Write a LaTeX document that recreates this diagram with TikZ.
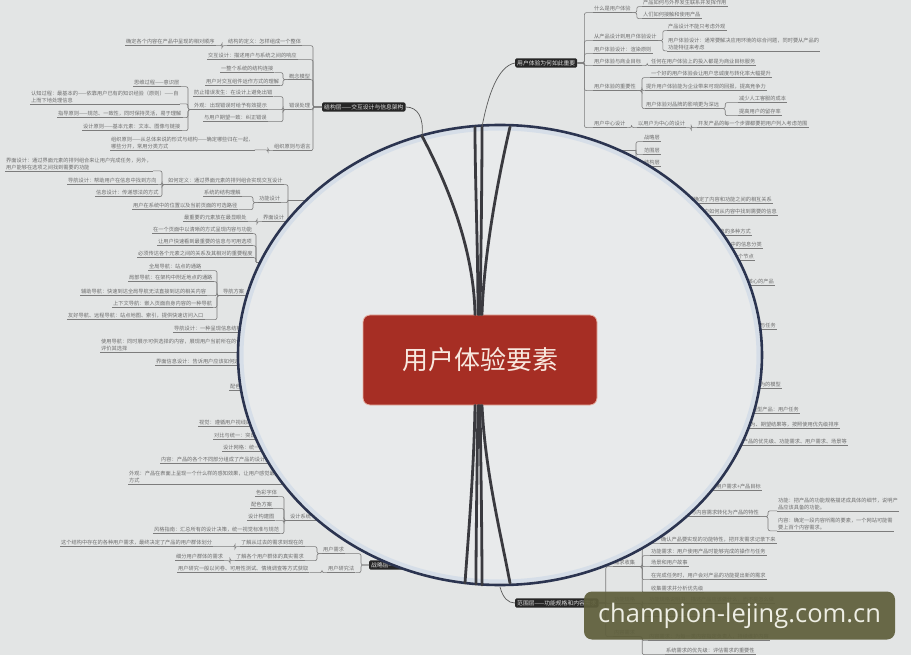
\documentclass[tikz,border=0pt]{standalone}
\usepackage{fontspec}
\setmainfont{Noto Sans CJK SC}
\newfontfamily\wmfont{Open Sans}
\definecolor{bggray}{HTML}{E3E5E5}
\definecolor{lensfill}{HTML}{E8EAEB}
\definecolor{lensring}{HTML}{CAD7E6}
\definecolor{lensedge}{HTML}{2B3450}
\definecolor{leafgray}{HTML}{6E6E6E}
\definecolor{ulgray}{HTML}{7C7C7C}
\definecolor{stemgray}{HTML}{3A3A3F}
\definecolor{branchfill}{HTML}{262626}
\definecolor{corered}{HTML}{A62E24}
\definecolor{corerim}{HTML}{E7B3A6}
\definecolor{coretext}{HTML}{F8E8DF}
\definecolor{wmolive}{HTML}{5F5F3C}
\definecolor{wmtext}{HTML}{EEEEE4}
\tikzset{
	link/.style={draw=ulgray,line width=0.6pt,rounded corners=2pt},
	leaf/.style={font=\fontsize{5.2}{6.4}\selectfont,text=leafgray,inner sep=1pt,anchor=west,align=left,
		append after command={\pgfextra{\let\ulnode\tikzlastnode}(\ulnode.south west) edge[link] (\ulnode.south east)}},
	leafr/.style={leaf,anchor=east,align=right},
	branch/.style={fill=branchfill,text=white!88!black,font=\fontsize{5.8}{7}\selectfont,rounded corners=1.5pt,inner sep=2pt,anchor=west},
	core/.style={fill=corered,draw=corerim,line width=0.8pt,rounded corners=7pt,minimum width=234pt,minimum height=90pt,text=coretext,font=\fontsize{26}{30}\selectfont},
	stem/.style={draw=stemgray,line width=2.8pt,line cap=round},
	twig/.style={draw=black!65,line width=0.7pt},
	wm/.style={fill=wmolive,fill opacity=.93,text opacity=1,text=wmtext,rounded corners=8pt,minimum width=311pt,minimum height=48pt,inner sep=0pt,font=\wmfont\fontsize{25.5}{28}\selectfont},
}
\newcommand\leftlink[3][5pt]{\draw[link] (#2.south east) -| ([xshift=-#1]#3.south west) -- (#3.south west);}
\newcommand\rightlink[3][5pt]{\draw[link] (#2.south east) -- ([xshift=#1]#2.south east) |- (#3.south west);}

\begin{document}
\begin{tikzpicture}[x=1pt,y=-1pt]
	\fill[bggray] (0,0) rectangle (911,655);
	\useasboundingbox (0,0) rectangle (911,655);
	
	% structure layer
	\node[branch] (jg) at (322,107) {结构层——交互设计与信息架构};
	\node[leaf] (jg1) at (227,42) {结构的定义：怎样组成一个整体};
	\node[leaf] (jg1a) at (125,42) {确定各个内容在产品中呈现的相对顺序};
	\node[leaf] (jg2) at (207,56) {交互设计：描述用户与系统之间的响应};
	\node[leaf] (jg3) at (288,76) {概念模型};
	\node[leaf] (jg3a) at (220,69) {一整个系统的结构连接};
	\node[leaf] (jg3b) at (205,82) {用户对交互组件运作方式的理解};
	\node[leaf] (jg4) at (288,106) {错误处理};
	\node[leaf] (jg4a) at (193,93) {防止错误发生：在设计上避免出错};
	\node[leaf] (jg4b) at (193,106) {外观：出现错误时给予有效提示};
	\node[leaf] (jg4c) at (203,118) {与用户期望一致：纠正错误};
	\node[leaf] (jg4b1) at (133,83) {思维过程——意识层};
	\node[leaf] (jg4b2) at (30,97) {认知过程：最基本的——依靠用户已有的知识经验（原则）——自\\上而下地处理信息};
	\node[leaf] (jg4b3) at (57,114) {指导原则——规范、一致性，同时保持灵活，易于理解};
	\node[leaf] (jg4b4) at (82,127) {设计原则——基本元素：文本、图像与链接};
	\node[leaf] (jg5) at (273,147) {组织原则与语言};
	\node[leaf] (jg5a) at (110,143) {组织原则——从总体来说的形式与结构——确定哪些归在一起，\\哪些分开，常用分类方式};
	\leftlink{jg1a}{jg1}
	\leftlink{jg3a}{jg3} \leftlink{jg3b}{jg3}
	\leftlink{jg4a}{jg4} \leftlink{jg4b}{jg4} \leftlink{jg4c}{jg4}
	\leftlink{jg4b1}{jg4b} \leftlink{jg4b2}{jg4b} \leftlink{jg4b3}{jg4b} \leftlink{jg4b4}{jg4b}
	\leftlink{jg5a}{jg5}
	\foreach \n in {jg1,jg2,jg3,jg4,jg5}
		\draw[link] (\n.south east) -| ([xshift=-9pt]jg.west) -- (jg.west);
	
	% skeleton layer, hidden behind the lens
	\coordinate (kj) at (288,200);
	\coordinate (kjin) at (345,200);
	\coordinate (kd) at (256,262);
	\coordinate (kdin) at (330,262);
	\node[leaf] (kj1) at (167,181) {如何定义：通过界面元素的排列组合实现交互设计};
	\node[leaf] (kj1a) at (5,164) {界面设计：通过界面元素的排列组合来让用户完成任务，另外，\\用户能够在选项之间找到需要的功能};
	\node[leaf] (kj1b) at (67,181) {导航设计：帮助用户在信息中找到方向};
	\node[leaf] (kj1c) at (95,193) {信息设计：传递想法的方式};
	\node[leaf] (kj2) at (258,199) {功能设计};
	\node[leaf] (kj2a) at (203,193) {系统的结构理解};
	\node[leaf] (kj2b) at (132,206) {用户在系统中的位置以及当前页面的可选路径};
	\node[leaf] (kj3) at (262,218) {界面设计};
	\node[leaf] (kj3a) at (183,218) {最重要的元素放在最显眼处};
	\leftlink{kj1a}{kj1} \leftlink{kj1b}{kj1} \leftlink{kj1c}{kj1}
	\leftlink{kj2a}{kj2} \leftlink{kj2b}{kj2} \leftlink{kj3a}{kj3}
	\draw[link] (kj1.south east) -| (kj);
	\draw[link] (kj2.south east) -| (kj);
	\draw[link] (kj3.south east) -| (kj);
	\draw[link] (kj) -- (kjin);
	
	\node[leaf] (kd1) at (152,230) {在一个页面中以清晰的方式呈现内容与功能};
	\node[leaf] (kd2) at (157,242) {让用户快速看到最重要的信息与可用选项};
	\node[leaf] (kd3) at (137,254) {必须传达各个元素之间的关系及其相对的重要程度};
	\draw[link] (kd1.south east) -| (kd);
	\draw[link] (kd2.south east) -| (kd);
	\draw[link] (kd3.south east) -| (kd);
	\draw[link] (kd) -- (kdin);
	
	\node[leaf] (dh) at (222,292) {导航方案};
	\node[leaf] (dh1) at (148,267) {全局导航：站点的通路};
	\node[leaf] (dh2) at (128,278) {局部导航：在架构中附近地点的通路};
	\node[leaf] (dh3) at (80,292) {辅助导航：快速到达全局导航无法直接到达的相关内容};
	\node[leaf] (dh4) at (112,304) {上下文导航：嵌入页面自身内容的一种导航};
	\node[leaf] (dh5) at (67,316) {友好导航、远程导航：站点地图、索引，提供快速访问入口};
	\foreach \n in {dh1,dh2,dh3,dh4,dh5} {\leftlink{\n}{dh}}
	\draw[link] (dh.south east) -- (dh.south east -| kdin);
	
	\node[leaf] (sj1) at (173,329) {导航设计：一种呈现信息结构的方式};
	\node[leaf] (sj2) at (100,345) {使用导航：同时展示可供选择的内容，展现用户当前所在的位置，帮助\\评价其选择};
	\node[leaf] (sj3) at (155,362) {界面信息设计：告诉用户应该如何选择与操作};
	\foreach \n in {sj1,sj2,sj3}
		\draw[link] (\n.south east) -- (\n.south east -| kdin);
	
	% surface layer
	\node[leaf] (vs0) at (229,387) {配色};
	\node[leaf] (vs1) at (198,423) {视觉：遵循用户视线的流动方向};
	\node[leaf] (vs2) at (213,436) {对比与统一：突出重点内容};
	\node[leaf] (vs3) at (222,448) {设计网格：统一的布局方式};
	\node[leaf] (vs4) at (160,460) {内容：产品的各个不同部分组成了产品的设计方式};
	\node[leaf] (vs5) at (128,477) {外观：产品在表面上呈现一个什么样的感知效果，让用户感觉最好的使用\\方式};
	\node[leaf] (sb) at (289,517) {设计系统};
	\node[leaf] (sb1) at (255,493) {色彩字体};
	\node[leaf] (sb2) at (250,505) {配色方案};
	\node[leaf] (sb3) at (247,517) {设计构建图};
	\node[leaf] (sb4) at (153,530) {风格指南：汇总所有的设计决策，统一视觉标准与规范};
	\foreach \n in {sb1,sb2,sb3,sb4} {\leftlink{\n}{sb}}
	\foreach \n in {vs0,vs1,vs2,vs3,vs4,vs5,sb}
		\draw[link] (\n.south east) -- (\n.south east -| kdin);
	
	% strategy layer
	\node[branch] (zl) at (369,565) {战略层——产品目标和用户需求};
	\node[leaf] (zl1) at (322,550) {用户需求};
	\node[leaf] (zl2) at (327,569) {用户研究法};
	\node[leaf] (zl1a) at (240,543) {了解从过去的需求到现在的};
	\node[leaf] (zl1a1) at (60,543) {这个结构中存在的各种用户需求，最终决定了产品的用户群体划分};
	\node[leaf] (zl1b) at (235,557) {了解各个用户群体的真实需求};
	\node[leaf] (zl1b1) at (175,557) {细分用户群体的需求};
	\node[leaf] (zl2a) at (177,569) {用户研究一般以问卷、可用性测试、情境调查等方式获取};
	\leftlink{zl1a}{zl1} \leftlink{zl1b}{zl1} \leftlink{zl1a1}{zl1a} \leftlink{zl1b1}{zl1b} \leftlink{zl2a}{zl2}
	\draw[link] (zl1.south east) -| ([xshift=-8pt]zl.west) -- (zl.west);
	\draw[link] (zl2.south east) -| ([xshift=-8pt]zl.west) -- (zl.west);
	
	% why user experience matters
	\node[branch] (wy) at (515,63) {用户体验为何如此重要};
	\node[leaf] (wy1) at (593,9) {什么是用户体验};
	\node[leaf] (wy1a) at (642,3) {产品如何与外界发生联系并发挥作用};
	\node[leaf] (wy1b) at (642,15) {人们如何接触和使用产品};
	\node[leaf] (wy2) at (593,37) {从产品设计到用户体验设计};
	\node[leaf] (wy2a) at (667,27) {产品设计不能只考虑外观};
	\node[leaf] (wy2b) at (667,44) {用户体验设计：通常要解决应用环境的综合问题，同时要从产品的\\功能特征来考虑};
	\node[leaf] (wy3) at (593,50) {用户体验设计：渲染原则};
	\node[leaf] (wy4) at (593,62) {用户体验与商业目标};
	\node[leaf] (wy4a) at (650,62) {任何在用户体验上的投入都是为商业目标服务};
	\node[leaf] (wy5) at (593,87) {用户体验的重要性};
	\node[leaf] (wy5a) at (650,74) {一个好的用户体验会让用户忠诚度与转化率大幅提升};
	\node[leaf] (wy5b) at (645,87) {提升用户体验能为企业带来可观的回报，提高竞争力};
	\node[leaf] (wy5c) at (645,105) {用户体验对品牌的影响更为深远};
	\node[leaf] (wy5c1) at (738,99) {减少人工客服的成本};
	\node[leaf] (wy5c2) at (738,112) {提高用户的留存率};
	\node[leaf] (wy6) at (593,124) {用户中心设计};
	\node[leaf] (wy6a) at (637,124) {以用户为中心的设计};
	\node[leaf] (wy6b) at (697,124) {开发产品的每一个步骤都要把用户列入考虑范围};
	\rightlink{wy1}{wy1a} \rightlink{wy1}{wy1b}
	\rightlink{wy2}{wy2a} \rightlink{wy2}{wy2b}
	\rightlink{wy4}{wy4a}
	\rightlink{wy5}{wy5a} \rightlink{wy5}{wy5b} \rightlink{wy5}{wy5c}
	\rightlink{wy5c}{wy5c1} \rightlink{wy5c}{wy5c2}
	\rightlink{wy6}{wy6a} \rightlink{wy6a}{wy6b}
	\foreach \n in {wy1,wy2,wy3,wy4,wy5,wy6}
		\draw[link] (wy.east) -- ([xshift=7pt]wy.east) |- (\n.south west);
	
	% right side, growing out of the lens
	\coordinate (kp) at (636,150);
	\coordinate (kpin) at (600,150);
	\node[leaf] (p1) at (643,138) {战略层};
	\node[leaf] (p2) at (643,151) {范围层};
	\node[leaf] (p3) at (643,163) {结构层};
	\draw[link] (kpin) -- (kp);
	\foreach \n in {p1,p2,p3}
		\draw[link] (kp) |- (\n.south west);
	\node[leafr] (q1) at (773,200) {在这一层面上，我们确定了内容和功能之间的相互关系};
	\node[leafr] (q2) at (778,212) {信息架构决定了用户如何从内容中找到需要的信息};
	\node[leafr] (q4) at (752,232) {组织信息的多种方式};
	\node[leafr] (q5) at (763,245) {用户心中的信息分类};
	\node[leafr] (q6) at (755,257) {架构中的各个节点};
	\node[leafr] (q7) at (775,282) {以功能为核心的产品};
	\node[leafr] (q8) at (777,326) {用户流程与任务};
	\node[leafr] (q9) at (782,385) {系统行为的模型};
	\node[leafr] (q10) at (800,410) {功能型产品：用户任务};
	\node[leafr] (q11) at (840,425) {用户：任务、目标、行为、期望结果等，按照使用优先级排序};
	\node[leafr] (q12) at (848,442) {是否需要实施：产品的优先级、功能需求、用户需求、场景等};
	\node[leafr] (t1) at (762,487) {整合用户需求+产品目标};
	\node[leafr] (t2) at (760,513) {把产品的功能与内容需求转化为产品的特性};
	\node[leaf] (t21) at (777,504) {功能：把产品的功能规格描述成具体的细节，说明产\\品应该具备的功能。};
	\node[leaf] (t22) at (777,524) {内容：确定一段内容所需的要素，一个网站可能需\\要上百个内容需求。};
	\rightlink[8pt]{t2}{t21} \rightlink[8pt]{t2}{t22}
	
	% scope layer
	\node[branch] (fw) at (515,603) {范围层——功能规格和内容需求};
	\node[leaf] (U) at (613,563) {需求收集};
	\node[leaf] (u1) at (660,540) {确认产品要实现的功能特性，把开发需求记录下来};
	\node[leaf] (u2) at (650,552) {功能需求：用户使用产品时能够完成的操作与任务};
	\node[leaf] (u3) at (650,563) {场景和用户故事};
	\node[leaf] (u4) at (650,576) {在完成任务时，用户会对产品的功能提出新的需求};
	\node[leaf] (u5) at (650,589) {收集需求并分析优先级};
	\node[leaf] (V1) at (613,600) {功能规格};
	\node[leaf] (v11) at (648,600) {功能规格说明书：描述产品应该做什么，而不是怎么做};
	\node[leaf] (v12) at (648,613) {避免含糊不清的描述与主观的判断};
	\node[leaf] (V2) at (613,633) {内容需求};
	\node[leaf] (v21) at (648,637) {内容需求：为每一类内容指定负责人，持续维护内容};
	\node[leaf] (v22) at (665,651) {系统需求的优先级：评估需求的重要性};
	\foreach \n in {u1,u2,u3,u4,u5} {\rightlink[6pt]{U}{\n}}
	\rightlink[6pt]{V1}{v11} \rightlink[6pt]{V1}{v12}
	\rightlink[6pt]{V2}{v21} \rightlink[6pt]{V2}{v22}
	\foreach \n in {U,V1,V2}
		\draw[link] (fw.east) -- ([xshift=7pt]fw.east) |- (\n.south west);
	
	% lens
	\path[fill=lensfill] (500,355) ellipse [x radius=262pt,y radius=230pt];
	\draw[lensring,line width=4pt,opacity=.6] (500,355) ellipse [x radius=258.5pt,y radius=226.5pt];
	\draw[lensedge,line width=2.6pt] (500,355) ellipse [x radius=262pt,y radius=230pt];
	
	\node[core] (ux) at (480,360) {用户体验要素};
	\coordinate (et1) at (422,136);
	\coordinate (et2) at (475,127);
	\coordinate (et3) at (482,127);
	\coordinate (et4) at (510,127);
	\coordinate (eb1) at (465,583);
	\coordinate (eb2) at (476,584);
	\coordinate (eb3) at (482,585);
	\coordinate (eb4) at (510,583);
	\coordinate (eb5) at (500,587);
	\draw[stem] ([xshift=-5pt]ux.north) .. controls (474,250) and (448,185) .. (et1);
	\draw[stem] ([xshift=-2pt]ux.north) .. controls (478,250) and (475,180) .. (et2);
	\draw[stem] (ux.north) .. controls (481,250) and (482,180) .. (et3);
	\draw[stem] ([xshift=2pt]ux.north) .. controls (484,250) and (500,170) .. (et4);
	\draw[stem] ([xshift=-5pt]ux.south) .. controls (474,470) and (468,540) .. (eb1);
	\draw[stem] ([xshift=-2pt]ux.south) .. controls (477,470) and (476,540) .. (eb2);
	\draw[stem] (ux.south) .. controls (481,470) and (482,540) .. (eb3);
	\draw[stem] ([xshift=2pt]ux.south) .. controls (485,470) and (500,530) .. (eb4);
	
	\draw[twig] (et1) .. controls (424,118) and (418,107) .. (jg.east);
	\draw[twig] (et3) .. controls (488,95) and (498,66) .. (wy.west);
	\draw[twig] (eb5) .. controls (503,598) and (508,603) .. (fw.west);
	
	\node[wm] (wm) at (739.5,615.5) {champion-lejing.com.cn};
\end{tikzpicture}
\end{document}
